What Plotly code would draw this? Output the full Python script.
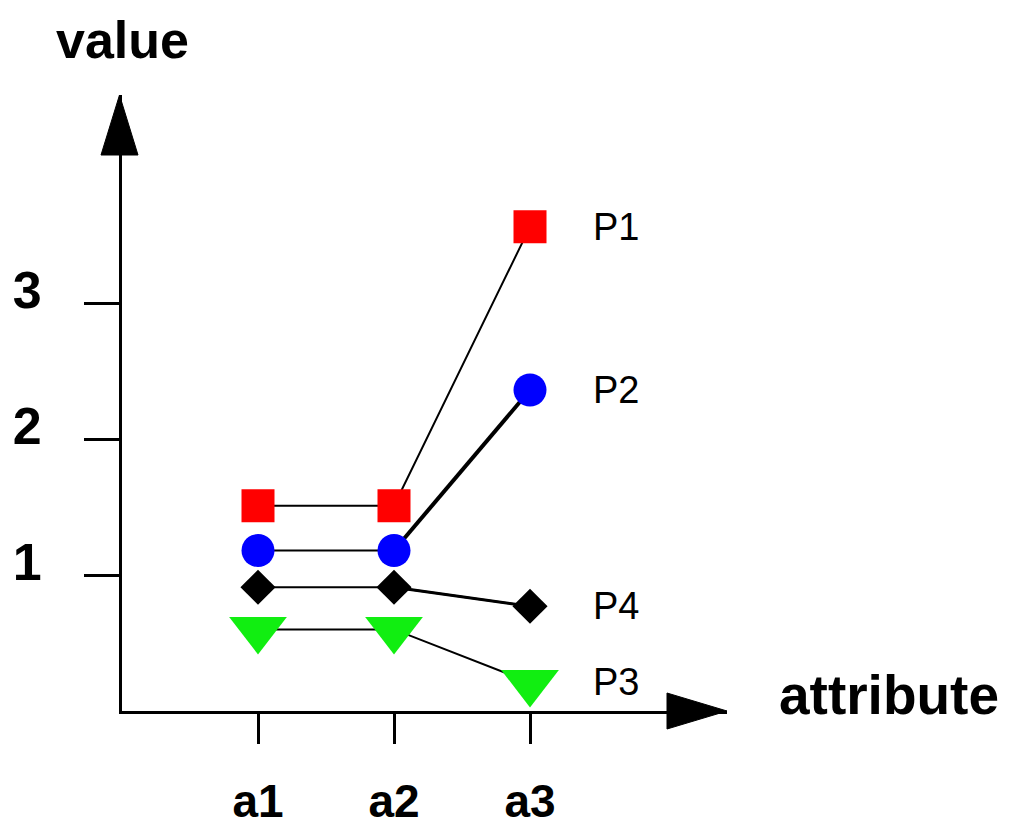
import plotly.graph_objects as go

# ---- data ----
attributes = ["a1", "a2", "a3"]
x_pos = [1, 2, 3]
p1 = [1.51, 1.51, 3.56]
p2 = [1.18, 1.18, 2.36]
p4 = [0.91, 0.91, 0.77]
p3 = [0.60, 0.60, 0.21]
y_ticks = [1, 2, 3]

# ---- layout geometry (pixels) ----
OFF = 8  # page body margin offset
W, H = 1012 - OFF, 827 - OFF
ML = 114
PW = 605
MR = W - ML - PW
MT = 87
PB = 702.5  # plot bottom in figure px
MB = int(round(H - PB))
PH = H - MT - MB
PX_PER_X = 136.0
PX_PER_Y = 136.0
x_max = PW / PX_PER_X
y_max = PH / PX_PER_Y


def px_to_paper(px, py):
    """page pixel -> paper coords"""
    fx, fy = px - OFF, py - OFF
    return (fx - ML) / PW, (H - MB - fy) / PH


FONT = "Liberation Sans, Arial, sans-serif"

fig = go.Figure()

series = [
    ("P1", p1, "square", "#ff0000", 33, 2),
    ("P2", p2, "circle", "#0000ff", 33, 2),
    ("P4", p4, "diamond", "#000000", 27, 2),
    ("P3", p3, "triangle-down", "#11ee11", 50, 2),
]

# lines first
for name, vals, sym, col, size, lw in series:
    fig.add_trace(go.Scatter(x=x_pos, y=vals, mode="lines",
                             line=dict(color="black", width=lw),
                             showlegend=False, hoverinfo="skip"))
# thicker second segment of P2 and P4
fig.add_trace(go.Scatter(x=x_pos[1:], y=p2[1:], mode="lines",
                         line=dict(color="black", width=4),
                         showlegend=False, hoverinfo="skip"))
fig.add_trace(go.Scatter(x=x_pos[1:], y=p4[1:], mode="lines",
                         line=dict(color="black", width=3),
                         showlegend=False, hoverinfo="skip"))
# markers
for name, vals, sym, col, size, lw in series:
    fig.add_trace(go.Scatter(x=x_pos, y=vals, mode="markers", name=name,
                             marker=dict(symbol=sym, color=col, size=size,
                                         line=dict(width=0)),
                             showlegend=False, cliponaxis=False))
    fig.add_annotation(x=x_pos[-1], y=vals[-1], text=name, showarrow=False,
                       xshift=86, xanchor="center", yanchor="middle",
                       font=dict(family=FONT, size=38, color="black"))

# arrowheads
ty = px_to_paper(119.5, 95)
bl = px_to_paper(101, 155)
br = px_to_paper(138, 155)
fig.add_shape(type="path", xref="paper", yref="paper",
              path=f"M {bl[0]},{bl[1]} L {br[0]},{br[1]} L {ty[0]},{ty[1]} Z",
              fillcolor="black", line=dict(color="black", width=1))
tx = px_to_paper(727, 711)
bt = px_to_paper(667, 693)
bb = px_to_paper(667, 729)
fig.add_shape(type="path", xref="paper", yref="paper",
              path=f"M {bt[0]},{bt[1]} L {bb[0]},{bb[1]} L {tx[0]},{tx[1]} Z",
              fillcolor="black", line=dict(color="black", width=1))

# axis titles
vx, vy = px_to_paper(122, 9)
fig.add_annotation(x=vx, y=vy, xref="paper", yref="paper", text="<b>value</b>",
                   showarrow=False, xanchor="center", yanchor="top",
                   font=dict(family=FONT, size=52, color="black"))
ax_, ay_ = px_to_paper(889, 695)
fig.add_annotation(x=ax_, y=ay_, xref="paper", yref="paper", text="<b>attribute</b>",
                   showarrow=False, xanchor="center", yanchor="middle",
                   font=dict(family=FONT, size=55, color="black"))

fig.update_layout(
    width=W, height=H,
    margin=dict(l=ML, r=MR, t=MT, b=MB, pad=0),
    paper_bgcolor="white", plot_bgcolor="white",
    showlegend=False,
    xaxis=dict(range=[0, x_max], tickvals=x_pos, ticktext=attributes,
               automargin=False,
               showline=True, linecolor="black", linewidth=3,
               ticks="outside", ticklen=30, tickwidth=3, tickcolor="black",
               showgrid=False, zeroline=False, ticklabelstandoff=18,
               tickfont=dict(family=FONT, size=46, color="black", weight="bold")),
    yaxis=dict(range=[0, y_max], tickvals=y_ticks, automargin=False,
               showline=True, linecolor="black", linewidth=3,
               ticks="outside", ticklen=35, tickwidth=3, tickcolor="black",
               showgrid=False, zeroline=False, ticklabelstandoff=32,
               ticklabelshift=-13,
               tickfont=dict(family=FONT, size=52, color="black", weight="bold")),
)

fig.write_html("out.html")
